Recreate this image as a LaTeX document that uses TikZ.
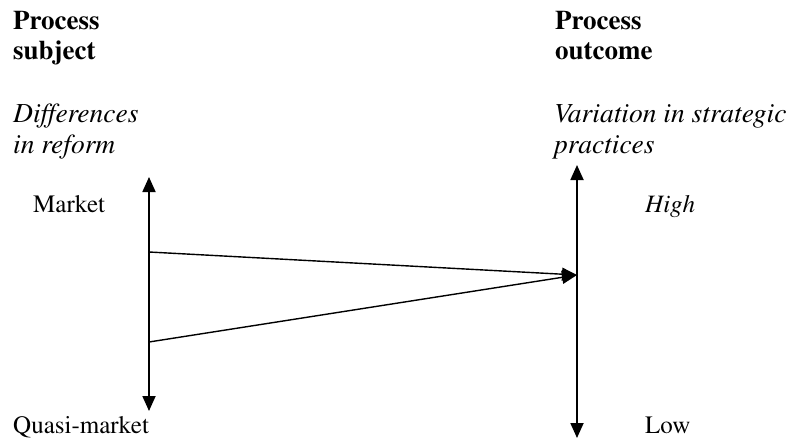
\documentclass[tikz,border=0pt]{standalone}
\usepackage[T1]{fontenc}
\renewcommand{\rmdefault}{ptm}
\usetikzlibrary{arrows.meta}
\begin{document}
\begin{tikzpicture}[x=1pt,y=-1pt,
  lbl/.style={anchor=base west,inner sep=0pt,font=\fontsize{25}{30}\selectfont\rmfamily},
  head/.style={lbl,font=\fontsize{27}{30}\selectfont\rmfamily\bfseries},
  sub/.style={lbl,font=\fontsize{27.5}{30}\selectfont\rmfamily\itshape},
  axis/.style={line width=1.8pt,{Triangle[length=15pt,width=13pt]}-{Triangle[length=15pt,width=13pt]}},
  link/.style={line width=1.4pt,-{Triangle[length=15pt,width=13pt]}}]
\useasboundingbox (0,0) rectangle (793,439);
% column headings
\node[head] (hs1) at (13,29) {Process};
\node[head] (hs2) at (13,59) {subject};
\node[head] (ho1) at (555,29) {Process};
\node[head] (ho2) at (555,59) {outcome};
\node[sub] (ds1) at (13,122) {Differences};
\node[sub] (ds2) at (13,153) {in reform};
\node[sub] (do1) at (554,122) {Variation in strategic};
\node[sub] (do2) at (554,153) {practices};
% scale labels
\node[lbl] (mk) at (33,212) {Market};
\node[lbl] (qm) at (13,433) {Quasi-market};
\node[sub,font=\fontsize{25}{30}\selectfont\rmfamily\itshape] (hi) at (645,212) {High};
\node[lbl] (lo) at (645,433) {Low};
% axes
\coordinate (lt) at (149,177);
\coordinate (lb) at (149,411);
\coordinate (rt) at (577,165);
\coordinate (rb) at (577,438);
\draw[axis] (lb) -- (lt);
\draw[axis] (rb) -- (rt);
% converging links
\coordinate (a1) at (149,252);
\coordinate (a2) at (149,342);
\coordinate (m) at (577,275);
\draw[link] (a1) -- (m);
\draw[link] (a2) -- (m);
\end{tikzpicture}
\end{document}
